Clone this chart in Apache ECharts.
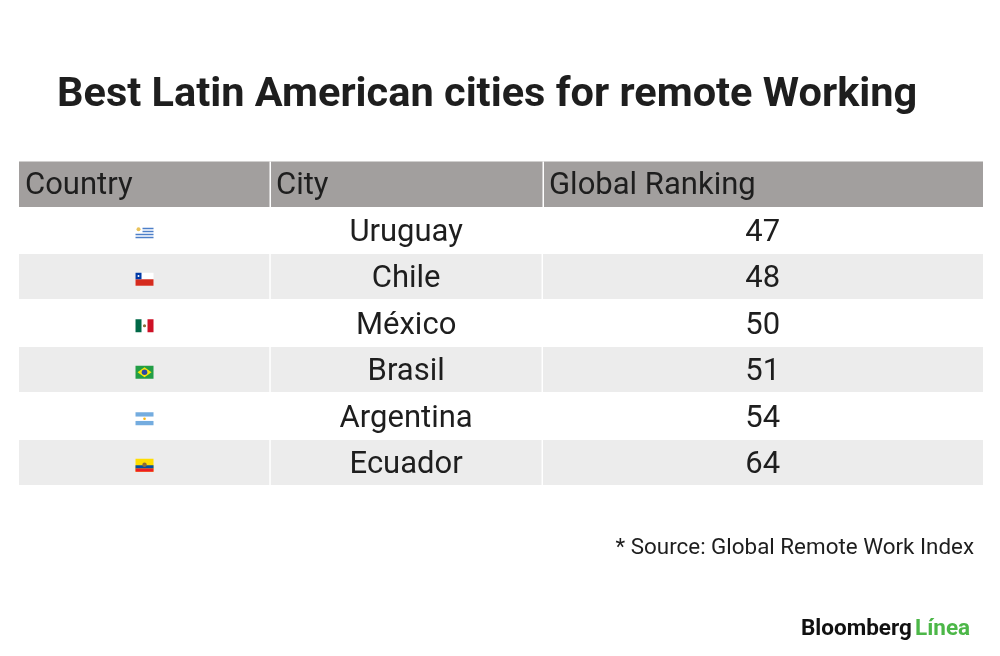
<!DOCTYPE html>
<html>
<head>
<meta charset="utf-8">
<script src="https://cdn.jsdelivr.net/npm/echarts@6/dist/echarts.min.js"></script>
<style>
	html, body { margin: 0; padding: 0; background: #fff; }
	#chart { width: 1000px; height: 656px; }
</style>
</head>
<body>
<div id="chart"></div>
<script>
const titleText = "Best Latin American cities for remote Working";
const headers = ["Country", "City", "Global Ranking"];
const countries = ["uruguay", "chile", "mexico", "brazil", "argentina", "ecuador"];
const cities = ["Uruguay", "Chile", "México", "Brasil", "Argentina", "Ecuador"];
const rankings = [47, 48, 50, 51, 54, 64];

const textColour = "#1e1e1e";
const headerColour = "#a29f9e";
const stripeColour = "#ececec";
const cellFont = "31px Roboto";
// column edges as share of the table width
const colEdges = [0, 0.2604, 0.5428, 1];

// small flag drawings, 18 x 13 px
function flag(code, cx, cy) {
	const w = 18, h = 13, x = cx - w / 2, y = cy - h / 2;
	const r = (dx, dy, dw, dh, fill) => ({ type: "rect", shape: { x: x + dx, y: y + dy, width: dw, height: dh }, style: { fill: fill } });
	const c = (dx, dy, rr, fill) => ({ type: "circle", shape: { cx: x + dx, cy: y + dy, r: rr }, style: { fill: fill } });
	switch (code) {
		case "uruguay":
			return [r(0, 0, w, h, "#ffffff"), r(7, 1.5, 11, 1.5, "#4d7fc8"), r(7, 4.5, 11, 1.5, "#4d7fc8"),
				r(0, 7.5, w, 1.5, "#4d7fc8"), r(0, 10.5, w, 1.5, "#4d7fc8"), c(3, 3, 2, "#e9c25a")];
		case "chile":
			return [r(0, 0, w, h, "#ffffff"), r(0, 6.5, w, 6.5, "#d52b1e"), r(0, 0, 6, 6.5, "#0039a6"), c(3, 3.2, 1, "#ffffff")];
		case "mexico":
			return [r(0, 0, w, h, "#ffffff"), r(0, 0, 6, h, "#006847"), r(12, 0, 6, h, "#ce1126"), c(9, 6.5, 1.6, "#8a6d3b")];
		case "brazil":
			return [r(0, 0, w, h, "#229e45"),
				{ type: "polygon", shape: { points: [[x + 2, y + 6.5], [x + 9, y + 1.5], [x + 16, y + 6.5], [x + 9, y + 11.5]] }, style: { fill: "#f8e509" } },
				c(9, 6.5, 2.8, "#2b49a3")];
		case "argentina":
			return [r(0, 0, w, h, "#ffffff"), r(0, 0, w, 4.3, "#74acdf"), r(0, 8.7, w, 4.3, "#74acdf"), c(9, 6.5, 1.3, "#f6b40e")];
		case "ecuador":
			return [r(0, 0, w, h, "#ffdd00"), r(0, 6.5, w, 3.25, "#034ea2"), r(0, 9.75, w, 3.25, "#ed1c24"), c(9, 6, 2.2, "#8c6b3a")];
	}
	return [];
}

function renderRow(params, api) {
	const cs = params.coordSys;
	const i = api.value(0);
	const rowH = api.size([0, 1])[1];
	const cy = api.coord([0, i])[1];
	const top = cy - rowH / 2;
	const colX = colEdges.map((f) => cs.x + f * cs.width);
	const mid = (k) => (colX[k] + colX[k + 1]) / 2;
	const children = [
		{ type: "rect", shape: { x: cs.x, y: top, width: cs.width, height: rowH - 1.5 }, style: { fill: i % 2 ? stripeColour : "#ffffff" } },
		{ type: "rect", shape: { x: colX[1] - 0.75, y: top, width: 1.5, height: rowH }, style: { fill: "#ffffff" } },
		{ type: "rect", shape: { x: colX[2] - 0.75, y: top, width: 1.5, height: rowH }, style: { fill: "#ffffff" } },
		{ type: "text", x: mid(1), y: cy + 2, style: { text: cities[i], fill: textColour, font: cellFont, align: "center", verticalAlign: "middle" } },
		{ type: "text", x: mid(2), y: cy + 2, style: { text: String(api.value(1)), fill: textColour, font: cellFont, align: "center", verticalAlign: "middle" } },
	];
	flag(countries[i], mid(0), cy + 2).forEach((el) => children.push(el));
	return { type: "group", children: children };
}

const chart = echarts.init(document.getElementById("chart"), null, { renderer: "canvas" });
const option = {
	animation: false,
	backgroundColor: "#ffffff",
	title: {
		text: titleText,
		left: 52,
		top: 70,
		textStyle: { fontFamily: "Roboto", fontWeight: "bold", fontSize: 41.5, color: textColour },
	},
	grid: { left: 19, right: 17, top: 207.5, height: 279, containLabel: false },
	xAxis: { type: "value", min: 0, max: 1, show: false },
	yAxis: { type: "category", data: cities, inverse: true, show: false },
	graphic: [
		{ type: "rect", shape: { x: 19, y: 161.5, width: 964, height: 45.5 }, style: { fill: headerColour } },
		{ type: "rect", shape: { x: 269.5, y: 161.5, width: 1.5, height: 45.5 }, style: { fill: "#ffffff" } },
		{ type: "rect", shape: { x: 542.5, y: 161.5, width: 1.5, height: 45.5 }, style: { fill: "#ffffff" } },
		{ type: "text", x: 25, y: 186, style: { text: headers[0], fill: textColour, font: cellFont, verticalAlign: "middle" } },
		{ type: "text", x: 276, y: 186, style: { text: headers[1], fill: textColour, font: cellFont, verticalAlign: "middle" } },
		{ type: "text", x: 549, y: 186, style: { text: headers[2], fill: textColour, font: cellFont, verticalAlign: "middle" } },
		{ type: "text", x: 974, y: 548, style: { text: "* Source: Global Remote Work Index", fill: textColour, font: "22.4px Roboto", align: "right", verticalAlign: "middle" } },
		{ type: "text", x: 801, y: 629, style: { text: "Bloomberg", fill: "#111111", font: "bold 22.5px Roboto", verticalAlign: "middle" } },
		{ type: "text", x: 915, y: 629, style: { text: "Línea", fill: "#4cb748", font: "bold 22.5px Roboto", verticalAlign: "middle" } },
	],
	series: [
		{
			type: "custom",
			renderItem: renderRow,
			data: rankings.map((v, i) => [i, v]),
			encode: { x: -1, y: 0 },
			silent: true,
		},
	],
};
chart.setOption(option);
</script>
</body>
</html>
